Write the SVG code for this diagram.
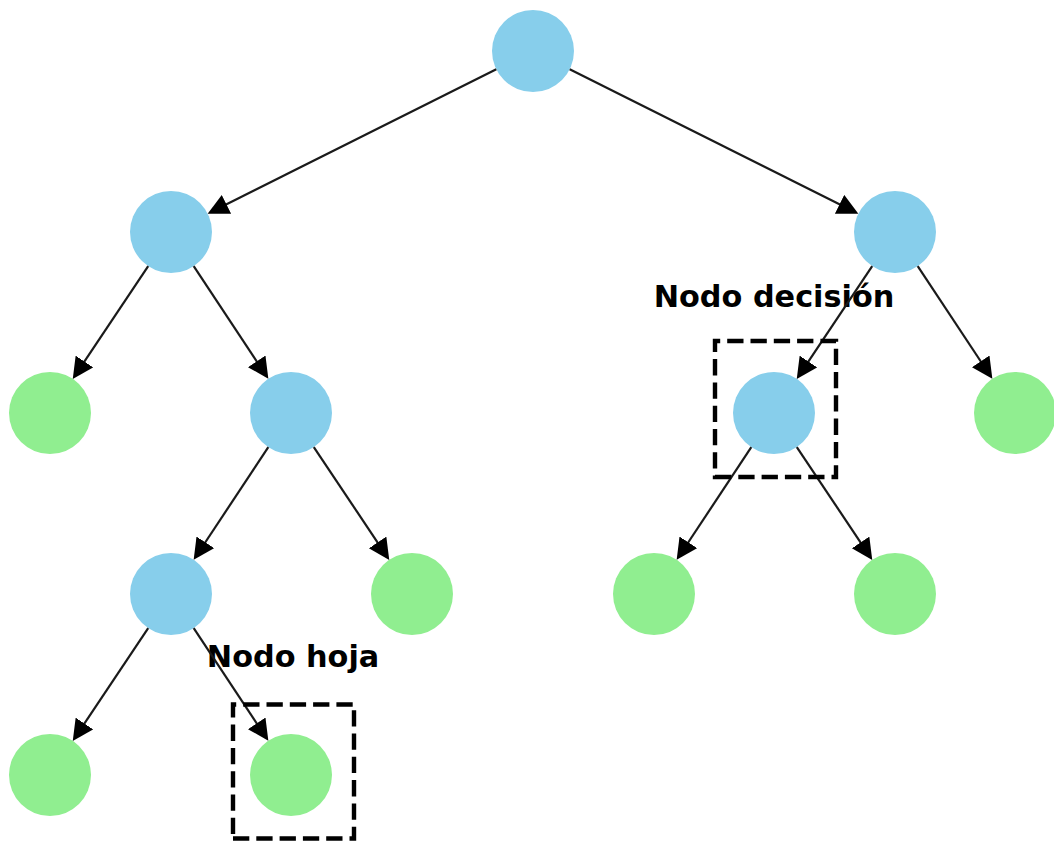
<svg xmlns="http://www.w3.org/2000/svg" width="1054" height="841" viewBox="0 0 1054 841">
<style>
.blue{fill:#87CEEB}
.green{fill:#90EE90}
.edge{stroke:#1a1a1a;stroke-width:2.2;fill:none;marker-end:url(#ah)}
.lbl{font-family:"DejaVu Sans",sans-serif;font-weight:bold;font-size:30.3px;fill:#000;text-anchor:middle}
.box{fill:none;stroke:#000;stroke-width:4.4;stroke-dasharray:16.3 7}
</style>
<defs>
<marker id="ah" markerUnits="userSpaceOnUse" markerWidth="22" markerHeight="22" refX="11" refY="10.5" orient="auto" viewBox="0 0 22 22">
<path d="M0,0 L21,10.5 L0,21 z" fill="#000"/>
</marker>
</defs>
<rect width="1054" height="841" fill="#fff"/>
<g id="nodes">
<g id="n0"><circle class="blue" cx="533" cy="51" r="41"/></g>
<g id="n1"><circle class="blue" cx="171" cy="232" r="41"/></g>
<g id="n2"><circle class="blue" cx="895" cy="232" r="41"/></g>
<g id="n3"><circle class="green" cx="50" cy="413" r="41"/></g>
<g id="n4"><circle class="blue" cx="291" cy="413" r="41"/></g>
<g id="n5"><circle class="blue" cx="774" cy="413" r="41"/></g>
<g id="n6"><circle class="green" cx="1015" cy="413" r="41"/></g>
<g id="n7"><circle class="blue" cx="171" cy="594" r="41"/></g>
<g id="n8"><circle class="green" cx="412" cy="594" r="41"/></g>
<g id="n9"><circle class="green" cx="654" cy="594" r="41"/></g>
<g id="n10"><circle class="green" cx="895" cy="594" r="41"/></g>
<g id="n11"><circle class="green" cx="50" cy="775" r="41"/></g>
<g id="n12"><circle class="green" cx="291" cy="775" r="41"/></g>
</g>
<g id="labels">
<text class="lbl" x="774" y="307">Nodo decisión</text>
<text class="lbl" x="293" y="667">Nodo hoja</text>
</g>
<g id="edges">
<line class="edge" x1="496.3" y1="69.3" x2="216.6" y2="209.2"/>
<line class="edge" x1="569.7" y1="69.3" x2="849.4" y2="209.2"/>
<line class="edge" x1="148.2" y1="266.1" x2="78.3" y2="370.6"/>
<line class="edge" x1="193.7" y1="266.2" x2="262.8" y2="370.5"/>
<line class="edge" x1="872.2" y1="266.1" x2="802.3" y2="370.6"/>
<line class="edge" x1="917.7" y1="266.2" x2="986.8" y2="370.5"/>
<line class="edge" x1="268.3" y1="447.2" x2="199.2" y2="551.5"/>
<line class="edge" x1="313.8" y1="447.1" x2="383.7" y2="551.6"/>
<line class="edge" x1="751.3" y1="447.2" x2="682.2" y2="551.5"/>
<line class="edge" x1="796.8" y1="447.1" x2="866.7" y2="551.6"/>
<line class="edge" x1="148.2" y1="628.1" x2="78.3" y2="732.6"/>
<line class="edge" x1="193.7" y1="628.2" x2="262.8" y2="732.5"/>
</g>
<g id="highlights">
<path class="box" d="M715,477 L836,477 L836,341 L715,341 Z"/>
<path class="box" d="M233,838.5 L354,838.5 L354,704.5 L233,704.5 Z"/>
</g>
</svg>
